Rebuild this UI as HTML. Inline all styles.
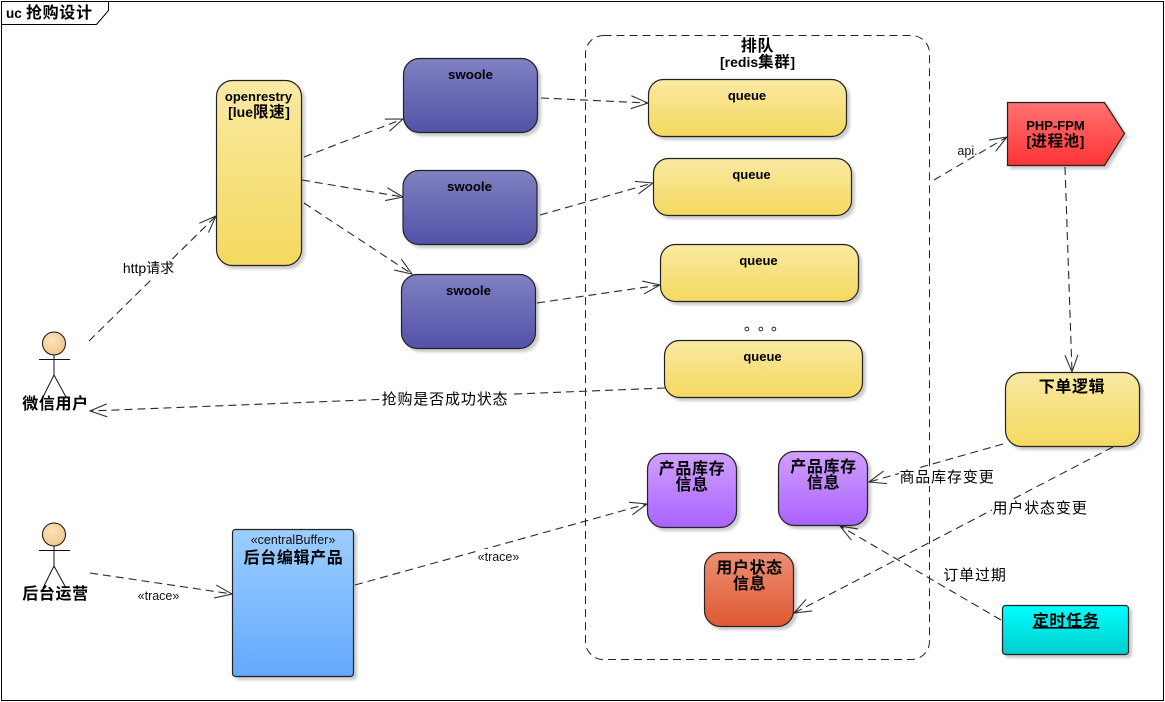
<!DOCTYPE html>
<html>
<head>
<meta charset="utf-8">
<style>
html,body{margin:0;padding:0;background:#fff;width:1165px;height:702px;overflow:hidden}
svg{display:block}
text{font-family:"Liberation Sans","WenQuanYi Zen Hei","Noto Sans CJK SC",sans-serif;fill:#000;text-anchor:middle}
.b{font-size:13px;font-weight:bold}
.c{font-size:16px;font-weight:bold;letter-spacing:.65px}
.cj{font-size:15.5px;letter-spacing:.6px}
.l{font-size:15px;letter-spacing:.85px}
.s{font-size:12.5px;fill:#111}
.n{stroke:#222;stroke-width:1.2}
.e{fill:none;stroke:#2a2a2a;stroke-width:1.1;stroke-dasharray:8 5;marker-end:url(#arr)}
.lb{fill:#fff;stroke:none}
</style>
</head>
<body>
<svg width="1165" height="702" viewBox="0 0 1165 702" xmlns="http://www.w3.org/2000/svg">
<defs>
<marker id="arr" markerUnits="userSpaceOnUse" markerWidth="20" markerHeight="16" refX="17" refY="8" orient="auto" overflow="visible">
<path d="M0,1.5 L17,8 L0,14.5" fill="none" stroke="#333" stroke-width="1.1" stroke-dasharray="none"/>
</marker>
<linearGradient id="y" x1="0" y1="0" x2="0" y2="1"><stop offset="0" stop-color="#f9e9a2"/><stop offset="1" stop-color="#f5d95f"/></linearGradient>
<linearGradient id="sw" x1="0" y1="0" x2="0" y2="1"><stop offset="0" stop-color="#8080c2"/><stop offset="1" stop-color="#5252a8"/></linearGradient>
<linearGradient id="p" x1="0" y1="0" x2="0" y2="1"><stop offset="0" stop-color="#d0a0ff"/><stop offset="1" stop-color="#aa62ff"/></linearGradient>
<linearGradient id="o" x1="0" y1="0" x2="0" y2="1"><stop offset="0" stop-color="#ec8f75"/><stop offset="1" stop-color="#e05832"/></linearGradient>
<linearGradient id="bl" x1="0" y1="0" x2="0" y2="1"><stop offset="0" stop-color="#9cceff"/><stop offset="1" stop-color="#63a9ff"/></linearGradient>
<linearGradient id="cy" x1="0" y1="0" x2="0" y2="1"><stop offset="0" stop-color="#00ffff"/><stop offset="1" stop-color="#00cccc"/></linearGradient>
<linearGradient id="r" x1="0" y1="0" x2="0" y2="1"><stop offset="0" stop-color="#ff7272"/><stop offset="1" stop-color="#ff3333"/></linearGradient>
<radialGradient id="h" cx=".4" cy=".35" r=".8"><stop offset="0" stop-color="#fbe3bd"/><stop offset="1" stop-color="#f0c080"/></radialGradient>
<filter id="sh" x="-10%" y="-10%" width="125%" height="125%"><feDropShadow dx="3" dy="3" stdDeviation="1.3" flood-color="#000" flood-opacity=".2"/></filter>
</defs>

<rect x="1.5" y="1.5" width="1162" height="699" fill="#fff" stroke="#000" stroke-width="1"/>
<path d="M1.5,24.5 H96.5 L108.5,10.5 V1.5" fill="none" stroke="#000"/>
<text x="6" y="18" style="font-size:13.5px;font-weight:bold;text-anchor:start">uc</text>
<text x="26" y="18" class="c" style="text-anchor:start">抢购设计</text>

<!-- container -->
<rect x="585.5" y="35.5" width="344" height="624" rx="18" ry="18" fill="#fff" stroke="#222" stroke-dasharray="8 5"/>
<text x="757.5" y="51" class="c">排队</text>
<text x="757.5" y="67" class="b" style="font-size:14px">[redis<tspan class="cj">集群</tspan>]</text>

<!-- edges -->
<path class="e" d="M89,341 L216,216"/>
<path class="e" d="M304,157 L403,119"/>
<path class="e" d="M302,180 L403,197"/>
<path class="e" d="M304,203 L412,274"/>
<path class="e" d="M541,98 L648,103"/>
<path class="e" d="M540,215 L653,183"/>
<path class="e" d="M537,303 L660,285"/>
<path class="e" d="M934,180 L1007,137"/>
<path class="e" d="M1065,167 L1072,372"/>
<path class="e" d="M665,388 L90,411"/>
<path class="e" d="M90,573 L232,594"/>
<path class="e" d="M355,585 L647,504"/>
<path class="e" d="M1003,444 L869,482"/>
<path class="e" d="M1113,447 L794,613"/>
<path class="e" d="M1001,620 L840,526"/>

<!-- nodes -->
<g filter="url(#sh)" class="n">
<rect x="216.5" y="80.5" width="85" height="185" rx="16" fill="url(#y)"/>
<rect x="403.5" y="58.5" width="134" height="74" rx="16" fill="url(#sw)"/>
<rect x="403" y="170.5" width="134" height="74" rx="16" fill="url(#sw)"/>
<rect x="401.5" y="274.5" width="134" height="74" rx="16" fill="url(#sw)"/>
<rect x="648.5" y="79.5" width="198" height="57" rx="15" fill="url(#y)"/>
<rect x="653.5" y="158.5" width="198" height="57" rx="15" fill="url(#y)"/>
<rect x="660.5" y="244.5" width="198" height="57" rx="15" fill="url(#y)"/>
<rect x="664.5" y="340.5" width="198" height="57" rx="15" fill="url(#y)"/>
<path d="M1007.5,102.5 H1104.5 L1124.5,133.5 L1104.5,165.5 H1007.5 Z" fill="url(#r)"/>
<rect x="1005.5" y="372.5" width="134" height="74" rx="16" fill="url(#y)"/>
<rect x="647.5" y="453.5" width="89" height="74" rx="16" fill="url(#p)"/>
<rect x="778.5" y="451.5" width="89" height="74" rx="16" fill="url(#p)"/>
<rect x="704.5" y="552.5" width="89" height="74" rx="16" fill="url(#o)"/>
<rect x="1002.5" y="605.5" width="126" height="49" rx="3" fill="url(#cy)"/>
<rect x="232.5" y="529.5" width="121" height="147" rx="3" fill="url(#bl)"/>
</g>

<!-- actors -->
<g fill="none" stroke="#111">
<circle cx="54" cy="343.5" r="11.5" fill="url(#h)"/>
<path d="M39,359.5 H70 M54,355 V375 L43,397 M54,375 L66,397"/>
<circle cx="54" cy="534.5" r="11.5" fill="url(#h)"/>
<path d="M39,550.5 H70 M54,546 V566 L43,588 M54,566 L66,588"/>
</g>
<text x="55.5" y="409" class="c">微信用户</text>
<text x="55.5" y="599" class="c">后台运营</text>

<!-- node labels -->
<text x="258.5" y="101" class="b">openrestry</text>
<text x="259" y="117" class="b" style="font-size:14px">[lue<tspan class="cj">限速</tspan>]</text>
<text x="470.5" y="79" class="b" style="font-size:13.3px">swoole</text>
<text x="469.5" y="191" class="b" style="font-size:13.3px">swoole</text>
<text x="468.5" y="295" class="b" style="font-size:13.3px">swoole</text>
<text x="747" y="100" class="b">queue</text>
<text x="751.5" y="179" class="b">queue</text>
<text x="758.5" y="265" class="b">queue</text>
<text x="762.5" y="361" class="b">queue</text>
<text x="1055.5" y="130" class="b" style="font-size:13px">PHP-FPM</text>
<text x="1055.5" y="146" class="b" style="font-size:14px">[<tspan class="cj">进程池</tspan>]</text>
<text x="1072" y="392" class="c">下单逻辑</text>
<text x="692" y="474" class="c">产品库存</text>
<text x="692" y="490" class="c">信息</text>
<text x="823.5" y="472" class="c">产品库存</text>
<text x="823.5" y="488" class="c">信息</text>
<text x="749.5" y="573" class="c">用户状态</text>
<text x="749.5" y="589" class="c">信息</text>
<text x="1066" y="626" class="c" text-decoration="underline">定时任务</text>
<text x="293" y="544" class="s">«centralBuffer»</text>
<text x="293.5" y="563" class="c">后台编辑产品</text>
<text x="744" y="330" style="font-size:15px;text-anchor:start">。</text>
<text x="758" y="330" style="font-size:15px;text-anchor:start">。</text>
<text x="771" y="330" style="font-size:15px;text-anchor:start">。</text>

<!-- edge labels -->
<rect class="lb" x="122" y="260" width="54" height="18"/>
<text x="148.5" y="273" style="font-size:14px">http请求</text>
<text x="967.5" y="155" class="s">api.</text>
<rect class="lb" x="381" y="390" width="128" height="18"/>
<text x="445" y="404" class="l">抢购是否成功状态</text>
<text x="158.5" y="600" class="s">«trace»</text>
<rect class="lb" x="476" y="549" width="46" height="16"/>
<text x="498.5" y="561" class="s">«trace»</text>
<rect class="lb" x="899" y="468" width="96" height="18"/>
<text x="947" y="482" class="l">商品库存变更</text>
<rect class="lb" x="992" y="499" width="96" height="18"/>
<text x="1040" y="513" class="l">用户状态变更</text>
<text x="975" y="580" class="l">订单过期</text>
</svg>
</body>
</html>
